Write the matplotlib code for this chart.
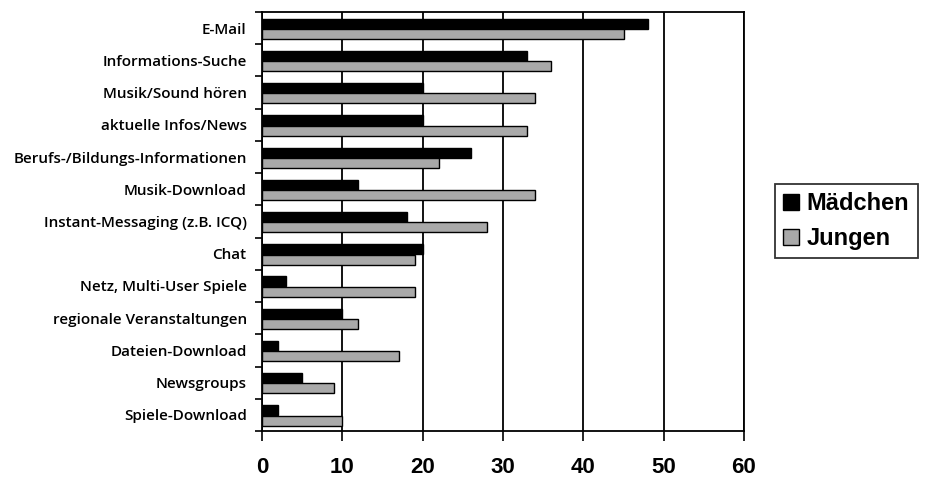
import numpy as np
import matplotlib.pyplot as plt

# Kategorien (von oben nach unten)
kategorien = ['E-Mail', 'Informations-Suche', 'Musik/Sound hören', 'aktuelle Infos/News',
              'Berufs-/Bildungs-Informationen', 'Musik-Download', 'Instant-Messaging (z.B. ICQ)',
              'Chat', 'Netz, Multi-User Spiele', 'regionale Veranstaltungen',
              'Dateien-Download', 'Newsgroups', 'Spiele-Download']
maedchen = [48, 33, 20, 20, 26, 12, 18, 20, 3, 10, 2, 5, 2]
jungen = [45, 36, 34, 33, 22, 34, 28, 19, 19, 12, 17, 9, 10]
x_ticks = [0, 10, 20, 30, 40, 50, 60]

fig = plt.figure(figsize=(9.26, 4.8), dpi=100)
ax = fig.add_axes([262/926, 1 - 431/480, 482/926, 419/480])

n = len(kategorien)
y = np.arange(n)
h = 0.31
ax.barh(y - 0.14, maedchen, height=h, color='black', edgecolor='black',
        linewidth=1, label='Mädchen', zorder=3)
ax.barh(y + 0.18, jungen, height=h, color='#a9a9a9', edgecolor='black',
        linewidth=1, label='Jungen', zorder=3)

ax.set_xlim(0, 60)
ax.set_ylim(n - 0.5, -0.5)
ax.set_xticks(x_ticks)
ax.set_xticklabels([str(t) for t in x_ticks], fontsize=16, fontweight='bold',
                   family='Liberation Sans')
ax.tick_params(axis='x', length=7, width=1.2, pad=12)

# Kategorien-Beschriftung und Teilstriche zwischen den Gruppen
ax.set_yticks(y)
ax.set_yticklabels(kategorien, fontsize=11, family='Open Sans', fontweight='semibold')
ax.set_yticks(np.arange(n + 1) - 0.5, minor=True)
ax.tick_params(axis='y', which='major', length=0, pad=11)
ax.tick_params(axis='y', which='minor', length=5, width=1.2)

ax.grid(axis='x', color='black', linewidth=1.3, zorder=0)
for s in ax.spines.values():
    s.set_linewidth(1.3)

leg = fig.legend(loc='upper left', bbox_to_anchor=(775/926, 1 - 184/480),
                 prop={'family': 'Liberation Sans', 'weight': 'bold', 'size': 17},
                 frameon=True, fancybox=False, edgecolor='black',
                 handlelength=0.65, handleheight=0.65, handletextpad=0.35,
                 borderpad=0.35, labelspacing=0.5, borderaxespad=0)
leg.get_frame().set_linewidth(1.3)

fig.savefig('out.png', dpi=100)
